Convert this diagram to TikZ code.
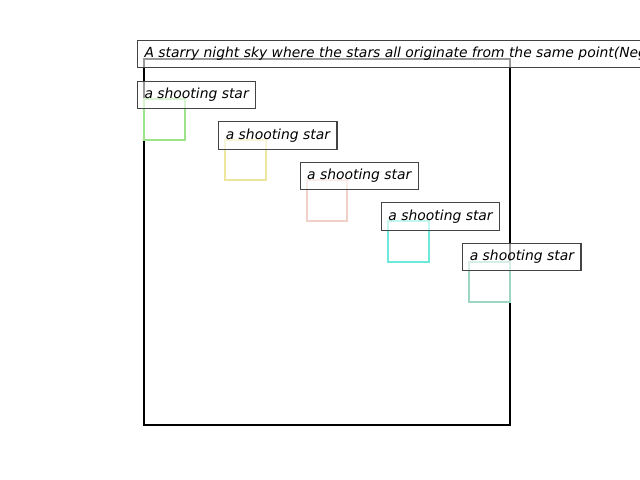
\documentclass[tikz,border=0pt]{standalone}
\usepackage{fontspec}
\setmainfont{DejaVu Sans}
\usetikzlibrary{calc}
\definecolor{ssInk}{HTML}{000000}
\definecolor{ssEdge}{HTML}{444444}
\definecolor{ssGreen}{HTML}{9DE38A}
\definecolor{ssYellow}{HTML}{EDE69E}
\definecolor{ssPink}{HTML}{F0D0C8}
\definecolor{ssCyan}{HTML}{6CE9DA}
\definecolor{ssTeal}{HTML}{9CD5C2}
\newcommand{\SSType}{\itshape\fontsize{10}{12}\selectfont}
\tikzset{ss/base/.style={x=.72pt,y=-.72pt,line cap=butt,line join=miter,
  every node/.style={font=\SSType,text=ssInk}},
  ss/spine/.style={draw=ssInk,line width=1.6pt},
  ss/star/.style={line width=1.6pt},
  ss/label/.style={draw=ssEdge,fill=white,fill opacity=.6,text opacity=1,
    line width=.8pt,inner xsep=5pt,inner ysep=5pt,text height=7.4pt,
    text depth=2.3pt,anchor=west}}

\begin{document}
\begin{tikzpicture}[ss/base]
  \useasboundingbox (0,0) rectangle (640,480);
  \clip (0,0) rectangle (640,480);
  \draw[ss/spine] (144,59) rectangle (510,425);
  % one square per star, stepping down and right
  \foreach \i/\col in {0/ssGreen,1/ssYellow,2/ssPink,3/ssCyan,4/ssTeal}{
    \draw[ss/star,draw=\col] ({144+81.33*\i},{99+40.67*\i}) rectangle +(40.67,40.67);
    \node[ss/label] (star\i) at ({137+81.33*\i},{95+40.5*\i}) {a shooting star};}
  \node[ss/label] (title) at (137,54)
    {A starry night sky where the stars all originate from the same point(Neg};
\end{tikzpicture}
\end{document}
